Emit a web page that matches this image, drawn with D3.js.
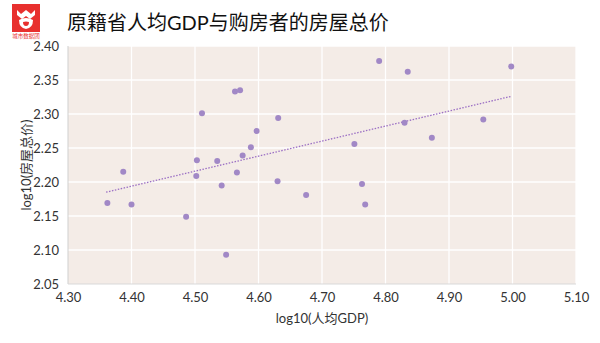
<!DOCTYPE html>
<html><head><meta charset="utf-8">
<script src="https://cdn.jsdelivr.net/npm/d3@7"></script>
<style>
html,body{margin:0;padding:0;background:#fff;}
text{font-family:"Century Gothic","Lato","Noto Sans CJK SC",sans-serif;}
</style></head>
<body>
<svg id="c" width="600" height="343"></svg>
<script>
const title = "原籍省人均GDP与购房者的房屋总价";
const xTitle = "log10(人均GDP)";
const yTitle = "log10(房屋总价)";
const xTicks = [4.30,4.40,4.50,4.60,4.70,4.80,4.90,5.00,5.10];
const yTicks = [2.05,2.10,2.15,2.20,2.25,2.30,2.35,2.40];
const logGDP = [4.387,4.511,4.563,4.571,4.631,4.597,4.588,4.575,4.503,4.535,4.502,4.566,4.630,4.542,4.675,4.362,4.400,4.486,4.549,4.763,4.768,4.790,4.835,4.998,4.954,4.830,4.873,4.751];
const logPrice = [2.215,2.301,2.333,2.335,2.294,2.275,2.251,2.239,2.232,2.231,2.209,2.214,2.201,2.195,2.181,2.169,2.167,2.149,2.093,2.197,2.167,2.378,2.362,2.370,2.292,2.287,2.265,2.256];
const trendX = [4.360, 4.998];
const trendY = [2.185, 2.326];

const svg = d3.select("#c");
const L=68,R=576,T=46,B=284;
const x = d3.scaleLinear().domain([4.30,5.10]).range([L,R]);
const y = d3.scaleLinear().domain([2.05,2.40]).range([B,T]);

svg.append("rect").attr("x",L).attr("y",T).attr("width",R-L).attr("height",B-T).attr("fill","#f4ece7");

// grid
svg.append("g").selectAll("line").data(xTicks.slice(1)).join("line")
  .attr("x1",d=>x(d)).attr("x2",d=>x(d)).attr("y1",T).attr("y2",B)
  .attr("stroke","#ffffff").attr("stroke-width",1.3);
svg.append("g").selectAll("line").data(yTicks.slice(1)).join("line")
  .attr("x1",L).attr("x2",R).attr("y1",d=>y(d)).attr("y2",d=>y(d))
  .attr("stroke","#ffffff").attr("stroke-width",1.3);

// axes lines
svg.append("line").attr("x1",L).attr("x2",L).attr("y1",T).attr("y2",B).attr("stroke","#cfcfcf");
svg.append("line").attr("x1",L).attr("x2",R).attr("y1",B).attr("y2",B).attr("stroke","#d9d9d9");

// tick labels via axes
const xa = svg.append("g").attr("transform",`translate(0,${B})`)
  .call(d3.axisBottom(x).tickValues(xTicks).tickFormat(d3.format(".2f")).tickSize(0).tickPadding(9));
xa.select(".domain").remove();
xa.selectAll("text").attr("font-size",13).attr("fill","#333").attr("font-family","Century Gothic, Lato, sans-serif");
const ya = svg.append("g").attr("transform",`translate(${L},0)`)
  .call(d3.axisLeft(y).tickValues(yTicks).tickFormat(d3.format(".2f")).tickSize(0).tickPadding(9));
ya.select(".domain").remove();
ya.selectAll("text").attr("font-size",13).attr("fill","#333").attr("font-family","Century Gothic, Lato, sans-serif");

// trend line
svg.append("path").datum(trendX.map((d,i)=>[d,trendY[i]]))
  .attr("d",d3.line().x(d=>x(d[0])).y(d=>y(d[1])))
  .attr("fill","none").attr("stroke","#9b6fc4").attr("stroke-width",1.3).attr("stroke-dasharray","1.5,1.5");

// points
svg.append("g").selectAll("circle").data(logGDP.map((d,i)=>[d,logPrice[i]])).join("circle")
  .attr("cx",d=>x(d[0])).attr("cy",d=>y(d[1])).attr("r",3)
  .attr("fill","#a188c6");

// titles
svg.append("text").attr("x",67).attr("y",30).attr("font-size",20).attr("fill","#111")
  .attr("font-family","Noto Sans CJK SC, sans-serif").text(title);
svg.append("text").attr("x",(L+R)/2).attr("y",323).attr("text-anchor","middle")
  .attr("font-size",13).attr("fill","#333").attr("font-family","Century Gothic, Lato, Noto Sans CJK SC, sans-serif").text(xTitle);
svg.append("text").attr("transform",`translate(31,${(T+B)/2}) rotate(-90)`).attr("text-anchor","middle")
  .attr("font-size",13).attr("fill","#333").attr("font-family","Century Gothic, Lato, Noto Sans CJK SC, sans-serif").text(yTitle);

// logo
const lg = svg.append("g");
lg.append("rect").attr("x",12).attr("y",4).attr("width",28).attr("height",28).attr("fill","#e8302e");
lg.append("path").attr("d","M17,10 L21,14 L26,10 L31,14 L35,10 L35,15 L30,19 L26,16 L22,19 L17,15 Z")
  .attr("fill","#fff");
lg.append("path").attr("d","M19,20 Q26,16 33,20 Q33,28 26,29 Q19,28 19,20 Z M23,22 Q26,21 29,22 Q29,26 26,26 Q23,26 23,22 Z")
  .attr("fill","#fff").attr("fill-rule","evenodd");
lg.append("text").attr("x",26).attr("y",38).attr("text-anchor","middle").attr("font-size",5.5)
  .attr("fill","#e8302e").attr("font-family","Noto Sans CJK SC, sans-serif").text("城市数据团");
</script>
</body></html>
